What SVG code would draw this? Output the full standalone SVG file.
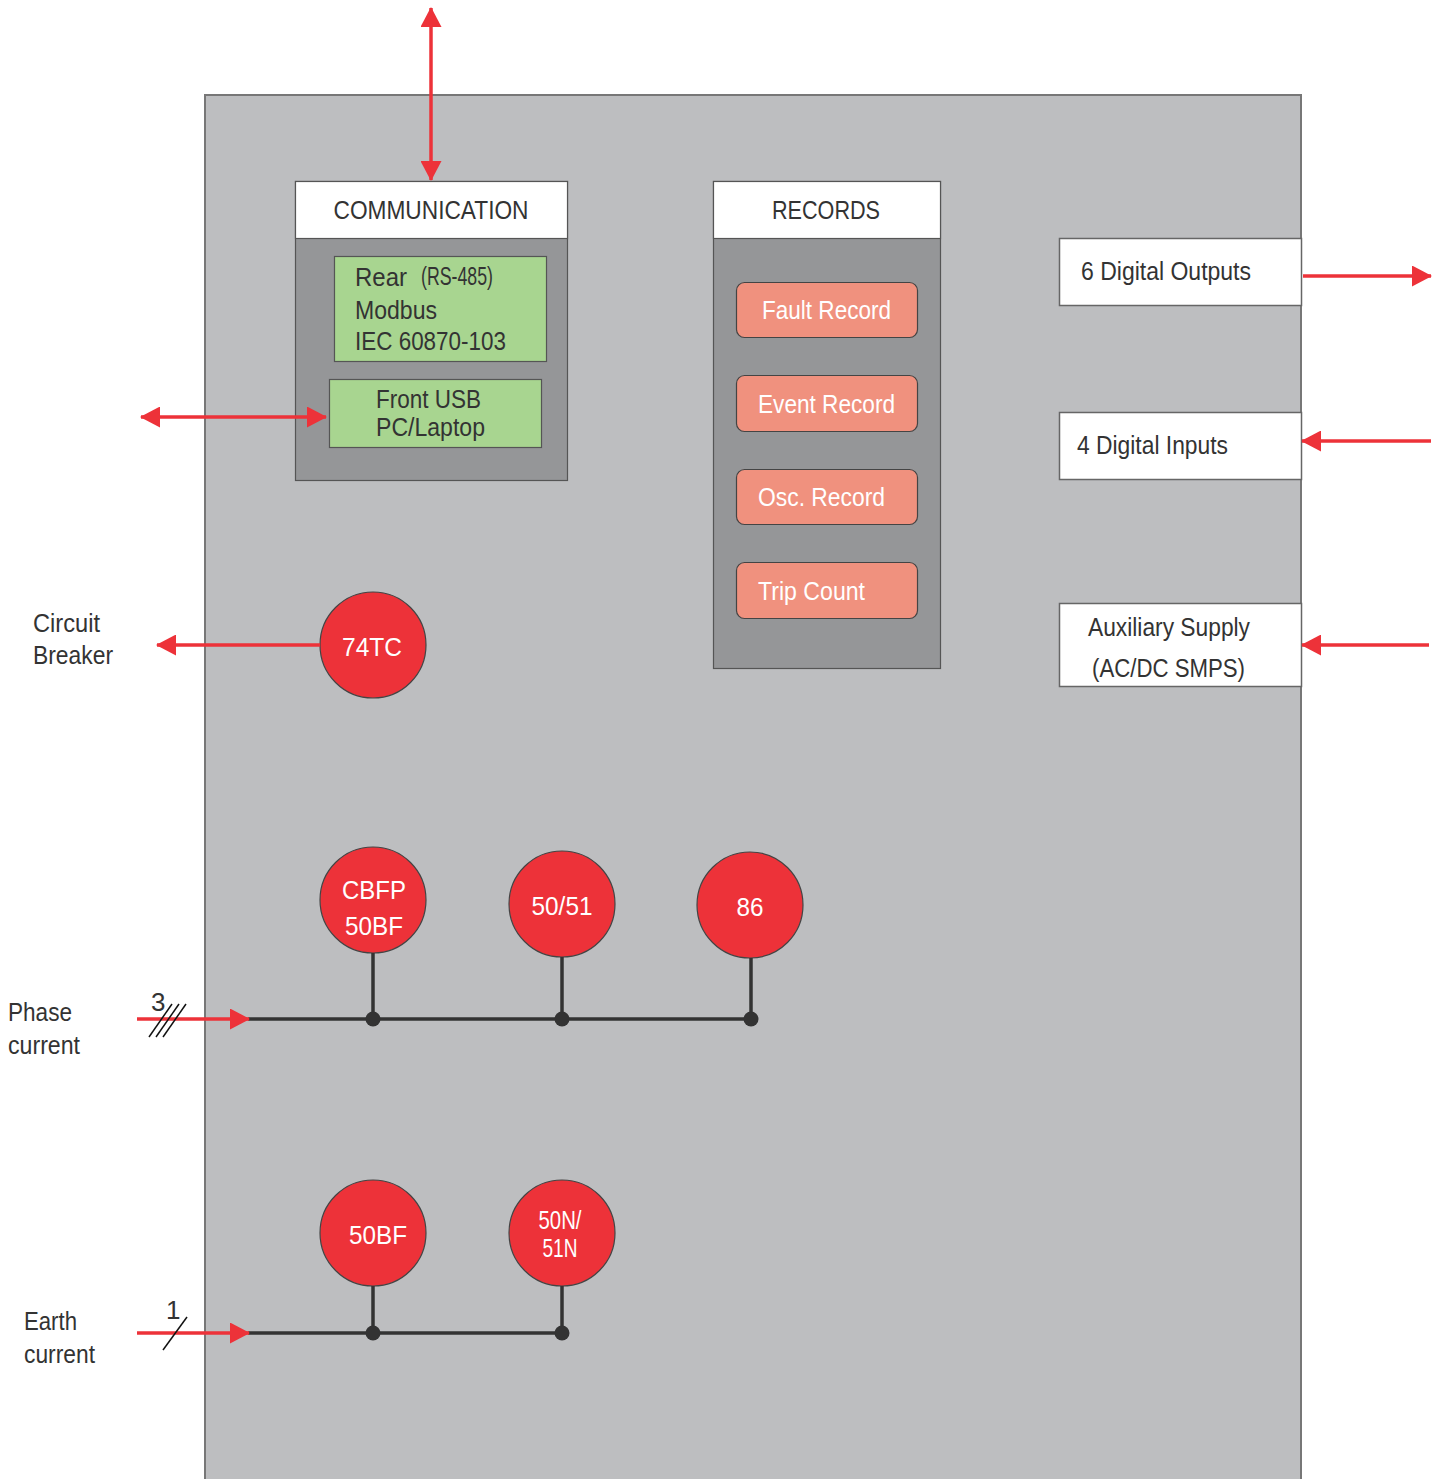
<svg xmlns="http://www.w3.org/2000/svg" width="1444" height="1479" viewBox="0 0 1444 1479">
<style>
text{font-family:"Liberation Sans",Arial,sans-serif;fill:#333333;font-size:26px}
.w{fill:#ffffff}
.c{text-anchor:middle}
.hdr{fill:#ffffff;stroke:#555555;stroke-width:1.2}
.panel{fill:#959698;stroke:#555555;stroke-width:1.2}
.green{fill:#a8d590;stroke:#555555;stroke-width:1.2}
.rec{fill:#f0917e;stroke:#444444;stroke-width:1.2}
.io{fill:#ffffff;stroke:#666666;stroke-width:1.5}
.relay{fill:#ed3239;stroke:#444444;stroke-width:1.2}
.red{stroke:#ed3239;stroke-width:3.5;fill:none}
.bus{stroke:#333333;stroke-width:3.5;fill:none}
.dot{fill:#333333}
.tick{stroke:#111111;stroke-width:1.5}
</style>
<defs>
<marker id="ah" markerUnits="userSpaceOnUse" markerWidth="20" markerHeight="21" refX="19" refY="10.5" orient="auto-start-reverse" viewBox="0 0 20 21">
<path d="M0,0 L20,10.5 L0,21 z" fill="#ed3239"/>
</marker>
</defs>
<rect width="1444" height="1479" fill="#ffffff"/>
<g id="device">
<rect x="205" y="95" width="1096" height="1400" fill="#bdbec0" stroke="#777777" stroke-width="2"/>
</g>
<g id="communication">
<rect class="panel" x="295.5" y="181.5" width="272" height="299"/>
<rect class="hdr" x="295.5" y="181.5" width="272" height="57"/>
<text class="c" x="431" y="219" textLength="195" lengthAdjust="spacingAndGlyphs">COMMUNICATION</text>
</g>
<g id="rear">
<rect class="green" x="334.5" y="256.5" width="212" height="105"/>
<text x="355" y="286" font-size="29" textLength="52" lengthAdjust="spacingAndGlyphs">Rear</text>
<text x="421" y="285" font-size="20" textLength="72" lengthAdjust="spacingAndGlyphs">(RS-485)</text>
<text x="355" y="319" textLength="82" lengthAdjust="spacingAndGlyphs">Modbus</text>
<text x="355" y="350" textLength="151" lengthAdjust="spacingAndGlyphs">IEC 60870-103</text>
</g>
<g id="front">
<rect class="green" x="329.5" y="379.5" width="212" height="68"/>
<text x="376" y="408" textLength="105" lengthAdjust="spacingAndGlyphs">Front USB</text>
<text x="376" y="436" textLength="109" lengthAdjust="spacingAndGlyphs">PC/Laptop</text>
</g>
<g id="records">
<rect class="panel" x="713.5" y="181.5" width="227" height="487"/>
<rect class="hdr" x="713.5" y="181.5" width="227" height="57"/>
<text class="c" x="826" y="219" textLength="108" lengthAdjust="spacingAndGlyphs">RECORDS</text>
</g>
<g id="fault">
<rect class="rec" x="736.5" y="282.5" width="181" height="55" rx="8"/>
<text class="w" x="762" y="319" textLength="129" lengthAdjust="spacingAndGlyphs">Fault Record</text>
</g>
<g id="event">
<rect class="rec" x="736.5" y="375.5" width="181" height="56" rx="8"/>
<text class="w" x="758" y="413" textLength="137" lengthAdjust="spacingAndGlyphs">Event Record</text>
</g>
<g id="osc">
<rect class="rec" x="736.5" y="469.5" width="181" height="55" rx="8"/>
<text class="w" x="758" y="506" textLength="127" lengthAdjust="spacingAndGlyphs">Osc. Record</text>
</g>
<g id="trip">
<rect class="rec" x="736.5" y="562.5" width="181" height="56" rx="8"/>
<text class="w" x="758" y="600" textLength="107" lengthAdjust="spacingAndGlyphs">Trip Count</text>
</g>
<g id="outputs">
<rect class="io" x="1059.5" y="238.5" width="242" height="67"/>
<text x="1081" y="280" textLength="170" lengthAdjust="spacingAndGlyphs">6 Digital Outputs</text>
</g>
<g id="inputs">
<rect class="io" x="1059.5" y="412.5" width="242" height="67"/>
<text x="1077" y="454" textLength="151" lengthAdjust="spacingAndGlyphs">4 Digital Inputs</text>
</g>
<g id="aux">
<rect class="io" x="1059.5" y="603.5" width="242" height="83"/>
<text x="1088" y="636" textLength="162" lengthAdjust="spacingAndGlyphs">Auxiliary Supply</text>
<text x="1092" y="677" textLength="153" lengthAdjust="spacingAndGlyphs">(AC/DC SMPS)</text>
</g>
<g id="r74tc">
<circle class="relay" cx="373" cy="645" r="53"/>
<text class="w c" x="372" y="656" textLength="60" lengthAdjust="spacingAndGlyphs">74TC</text>
</g>
<g id="cbfp">
<circle class="relay" cx="373" cy="900" r="53"/>
<text class="w c" x="374" y="899" textLength="64" lengthAdjust="spacingAndGlyphs">CBFP</text>
<text class="w c" x="374" y="935" textLength="58" lengthAdjust="spacingAndGlyphs">50BF</text>
</g>
<g id="r5051">
<circle class="relay" cx="562" cy="904" r="53"/>
<text class="w c" x="562" y="915" textLength="61" lengthAdjust="spacingAndGlyphs">50/51</text>
</g>
<g id="r86">
<circle class="relay" cx="750" cy="905" r="53"/>
<text class="w c" x="750" y="916" textLength="27" lengthAdjust="spacingAndGlyphs">86</text>
</g>
<g id="r50bf">
<circle class="relay" cx="373" cy="1233" r="53"/>
<text class="w c" x="378" y="1244" textLength="58" lengthAdjust="spacingAndGlyphs">50BF</text>
</g>
<g id="r50n">
<circle class="relay" cx="562" cy="1233" r="53"/>
<text class="w c" x="560" y="1229" font-size="22" textLength="43" lengthAdjust="spacingAndGlyphs">50N/</text>
<text class="w c" x="560" y="1257" font-size="22" textLength="35" lengthAdjust="spacingAndGlyphs">51N</text>
</g>
<g id="labels">
<text x="33" y="632" textLength="67" lengthAdjust="spacingAndGlyphs">Circuit</text>
<text x="33" y="664" textLength="80" lengthAdjust="spacingAndGlyphs">Breaker</text>
<text x="8" y="1021" textLength="64" lengthAdjust="spacingAndGlyphs">Phase</text>
<text x="8" y="1054" textLength="72" lengthAdjust="spacingAndGlyphs">current</text>
<text x="24" y="1330" textLength="53" lengthAdjust="spacingAndGlyphs">Earth</text>
<text x="24" y="1363" textLength="71" lengthAdjust="spacingAndGlyphs">current</text>
<text x="151" y="1011" font-size="23">3</text>
<text x="166" y="1319" font-size="23">1</text>
</g>
<g id="connectors">
<line class="red" x1="431" y1="8" x2="431" y2="180" marker-start="url(#ah)" marker-end="url(#ah)"/>
<line class="red" x1="141" y1="417" x2="326" y2="417" marker-start="url(#ah)" marker-end="url(#ah)"/>
<line class="red" x1="320" y1="645" x2="157" y2="645" marker-end="url(#ah)"/>
<line class="red" x1="1303" y1="276" x2="1431" y2="276" marker-end="url(#ah)"/>
<line class="red" x1="1431" y1="441" x2="1302" y2="441" marker-end="url(#ah)"/>
<line class="red" x1="1429" y1="645" x2="1302" y2="645" marker-end="url(#ah)"/>
<line class="bus" x1="248" y1="1019" x2="751" y2="1019"/>
<line class="bus" x1="373" y1="953" x2="373" y2="1019"/>
<line class="bus" x1="562" y1="957" x2="562" y2="1019"/>
<line class="bus" x1="751" y1="958" x2="751" y2="1019"/>
<circle class="dot" cx="373" cy="1019" r="7.5"/>
<circle class="dot" cx="562" cy="1019" r="7.5"/>
<circle class="dot" cx="751" cy="1019" r="7.5"/>
<line class="red" x1="137" y1="1019" x2="249" y2="1019" marker-end="url(#ah)"/>
<line class="tick" x1="149" y1="1037" x2="172" y2="1004"/>
<line class="tick" x1="156" y1="1037" x2="179" y2="1004"/>
<line class="tick" x1="163" y1="1037" x2="186" y2="1004"/>
<line class="bus" x1="248" y1="1333" x2="562" y2="1333"/>
<line class="bus" x1="373" y1="1286" x2="373" y2="1333"/>
<line class="bus" x1="562" y1="1286" x2="562" y2="1333"/>
<circle class="dot" cx="373" cy="1333" r="7.5"/>
<circle class="dot" cx="562" cy="1333" r="7.5"/>
<line class="red" x1="137" y1="1333" x2="249" y2="1333" marker-end="url(#ah)"/>
<line class="tick" x1="163" y1="1350" x2="187" y2="1317"/>
</g>
</svg>
